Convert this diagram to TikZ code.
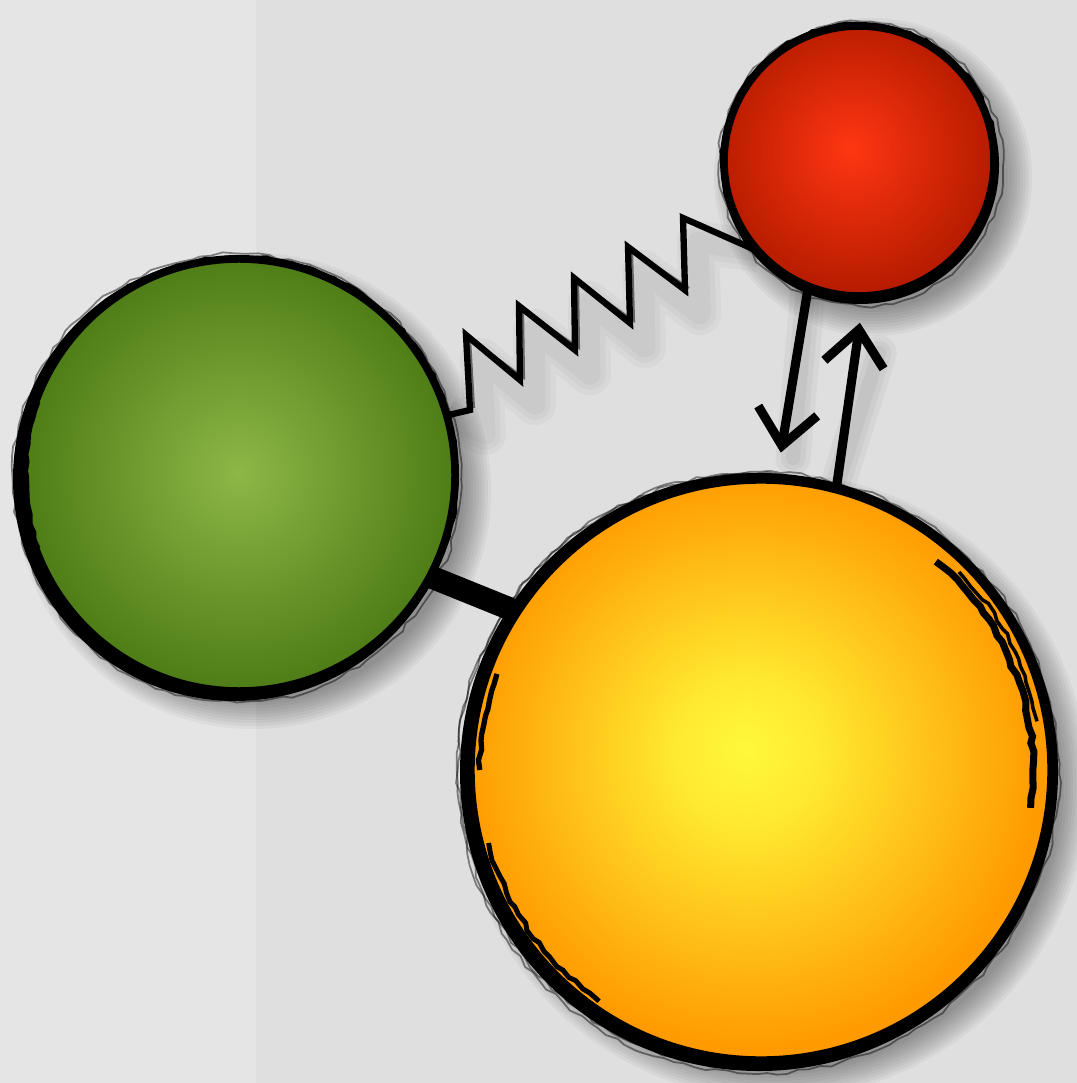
\documentclass[tikz,border=0pt]{standalone}
\usetikzlibrary{arrows.meta,decorations.pathmorphing,calc}
\definecolor{bgL}{HTML}{E5E5E5}
\definecolor{bgR}{HTML}{DFDFDF}
\definecolor{gIn}{HTML}{8DB847}
\definecolor{gOut}{HTML}{4E7C16}
\definecolor{rIn}{HTML}{FF3612}
\definecolor{rOut}{HTML}{B81C00}
\definecolor{yIn}{HTML}{FFF83A}
\definecolor{yOut}{HTML}{FF9A00}
\pgfdeclareradialshading{greensh}{\pgfpoint{0bp}{0.3bp}}{color(0bp)=(gIn); color(25bp)=(gOut); color(50bp)=(gOut)}
\pgfdeclareradialshading{redsh}{\pgfpoint{-1.6bp}{2.4bp}}{color(0bp)=(rIn); color(25bp)=(rOut); color(50bp)=(rOut)}
\pgfdeclareradialshading{yellowsh}{\pgfpoint{-1.4bp}{1.8bp}}{color(0bp)=(yIn); color(6bp)=(yIn!85!yOut); color(25bp)=(yOut); color(50bp)=(yOut)}
\pgfdeclarelayer{bglayer}
\pgfdeclarelayer{connlayer}
\pgfsetlayers{bglayer,connlayer,main}
\tikzset{
  ball/.style={circle, inner sep=0pt, outer sep=0pt, draw=black, line width=2.2pt, shade},
  sk/.style={draw=black, line width=0.8pt, decorate, decoration={random steps, segment length=2.5pt, amplitude=0.5pt}},
  skfaint/.style={draw=black, line width=0.5pt, opacity=0.45, decorate, decoration={random steps, segment length=3pt, amplitude=0.6pt}},
  zig/.style={draw=black, line width=1.8pt, line join=miter, miter limit=10},
  arr/.style={draw=black, line width=2.6pt, -{Straight Barb[length=10pt,width=17pt]}},
  conbar/.style={draw=black, line width=6.5pt},
}
\def\zigpts{(470,410) -- (466,335) -- (520,380) -- (519,306) -- (575,350) -- (574,278) -- (630,323) -- (628,247) -- (685,290) -- (683,218)}
\begin{document}
\begin{tikzpicture}[x=0.01cm,y=-0.01cm]
\pgfmathsetseed{7}
\useasboundingbox (0,0) rectangle (1077,1083);
\begin{pgfonlayer}{bglayer}
\fill[bgL] (0,0) rectangle (256,1083);
\fill[bgR] (256,0) rectangle (1077,1083);
\foreach \cx/\cy/\r in {239/475/220, 859/161/141, 761/770/295}{
  \foreach \k in {0,...,9}{
    \fill[black,opacity=0.04] (\cx+14,\cy+16) circle ({\r+18-3*\k});
  }
}
% thick lower crescents of the sketched borders
\fill[black] (235,479) circle (222);
\fill[black] (860,165) circle (139);
\fill[black] (759,772) circle (299);
\end{pgfonlayer}

% circles
\node[ball, minimum size=4.32cm, shading=greensh] (green) at (239,475) {};
\node[ball, minimum size=2.70cm, shading=redsh] (red) at (859,161) {};
\node[ball, minimum size=5.80cm, shading=yellowsh] (yellow) at (761,770) {};

% sketchy strokes
\draw[sk] (green.center) circle (218);
\draw[skfaint] ($(green.center)+(-2,3)$) circle (224);
\draw[sk] (red.center) circle (137);
\draw[skfaint] ($(red.center)+(2,3)$) circle (142);
\draw[sk] (yellow.center) circle (291);
\draw[skfaint] ($(yellow.center)+(-3,3)$) circle (301);
\draw[skfaint] ($(yellow.center)+(-6,1)$) circle (297);
\draw[sk, line width=2pt] ($(yellow.center)+(-50:272)$) arc (-50:8:272);
\draw[sk, line width=1pt] ($(yellow.center)+(-45:280)$) arc (-45:-10:280);
\draw[sk, line width=1.4pt] ($(yellow.center)+(165:282)$) arc (165:125:282);
\draw[sk, line width=1.5pt] ($(yellow.center)+(200:281)$) arc (200:180:281);
\draw[sk, line width=1pt] ($(green.center)+(160:213)$) arc (160:200:213);

% connectors
\begin{pgfonlayer}{connlayer}
\foreach \w in {12,9,6}{
  \draw[draw=black, line width=\w pt, opacity=0.03, line join=round, xshift=0.15cm, yshift=-0.24cm] (green.16) -- \zigpts -- (red.222);
}
\draw[zig] (green.16) -- \zigpts -- (red.222);
\draw[black, line width=0.6pt, opacity=0.5] (474,408) -- (470,338) -- (524,378) -- (523,309) -- (579,348) -- (578,281) -- (634,321) -- (632,250) -- (689,288);
\foreach \w in {10,7,4}{
  \draw[draw=black, line width=\w pt, opacity=0.04, line cap=round, xshift=0.16cm, yshift=-0.18cm] (red.248) -- (777,440);
  \draw[draw=black, line width=\w pt, opacity=0.04, line cap=round, xshift=0.16cm, yshift=-0.18cm] (yellow.75) -- (863,335);
}
\draw[arr, shorten >=0.28cm] (red.248) -- (yellow.87);
\draw[arr, shorten >=0.27cm] (yellow.75) -- (red.272);
\draw[conbar] (green.-28) -- (yellow.147);
\end{pgfonlayer}
\end{tikzpicture}
\end{document}
